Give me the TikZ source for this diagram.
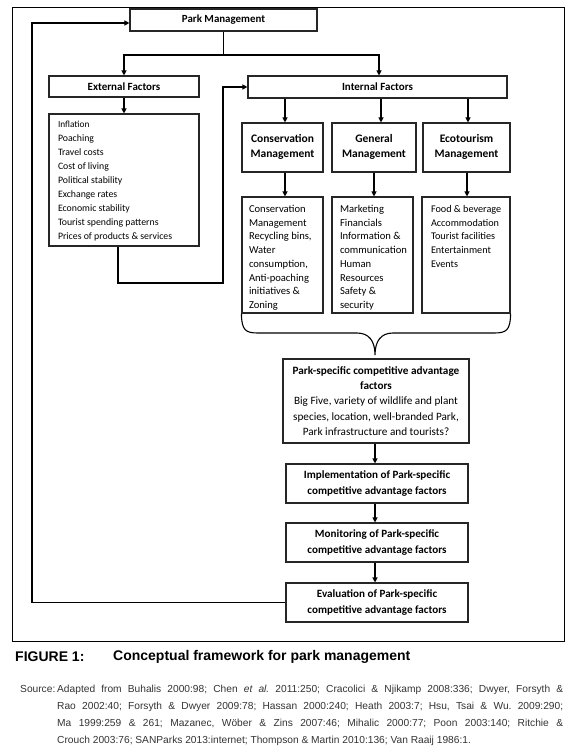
\documentclass[tikz,border=0pt]{standalone}
\usepackage{fontspec}
\setmainfont{Carlito}
\newfontfamily\arialfont{Liberation Sans}
\usetikzlibrary{arrows.meta}
\newcommand{\hdtext}[1]{\raisebox{3pt}{\begin{tabular}{@{}c@{}}#1\end{tabular}}}
\newcommand{\lsttext}[3]{\parbox[c][#1][t]{#2}{\vspace*{6pt}\begin{tabular}[t]{@{}l@{}}#3\end{tabular}}}
\begin{document}
\begin{tikzpicture}[x=1pt,y=-1pt,
  box/.style={draw=black!85, line width=1.1pt, inner sep=0pt, align=center,
    font=\bfseries\fontsize{11}{13}\selectfont},
  hbox/.style={box, font=\bfseries\fontsize{11.5}{15}\selectfont},
  sbox/.style={box, minimum width=182pt, minimum height=39pt, font=\bfseries\fontsize{11.1}{15.5}\selectfont},
  lbox/.style={draw=black!85, line width=1.1pt, inner ysep=0pt, align=left,
    font=\fontsize{10.6}{13.7}\selectfont},
  arr/.style={line width=1.1pt, -{Triangle[length=5pt,width=5pt]}},
  ln/.style={line width=1.1pt}]
\useasboundingbox (0,0) rectangle (576,751);
\draw[line width=0.9pt] (12,7) rectangle (564,641);

% nodes
\node[box, minimum width=187pt, minimum height=22pt,
  font=\bfseries\fontsize{10.9}{12}\selectfont] (pm) at (223.5,20) {Park Management};
\node[box, minimum width=150pt, minimum height=21pt] (ef) at (124,86.5) {External Factors};
\node[box, minimum width=259pt, minimum height=22pt] (if) at (377.5,87) {Internal Factors};

\node[lbox, inner xsep=9pt, font=\fontsize{9.8}{14}\selectfont] (extlist) at (124,180)
 {\parbox[c][132pt][t]{132pt}{\vspace*{7pt}{\fontsize{9.3}{14}\selectfont Inflation}\\Poaching\\Travel costs\\Cost of living\\Political stability\\Exchange rates\\Economic stability\\Tourist spending patterns\\Prices of products \& services}};

\node[hbox, minimum width=81pt, minimum height=49pt] (cons) at (282.5,147.5) {\hdtext{Conservation\\Management}};
\node[hbox, minimum width=84pt, minimum height=49pt] (gen) at (374,147.5) {\hdtext{General\\Management}};
\node[hbox, minimum width=87pt, minimum height=49pt] (eco) at (466.5,147.5) {\hdtext{Ecotourism\\Management}};

\node[lbox, inner xsep=7pt] (conslist) at (282.5,255)
 {\lsttext{116pt}{67pt}{Conservation\\Management\\Recycling bins,\\Water\\consumption,\\Anti-poaching\\initiatives \&\\Zoning}};
\node[lbox, inner xsep=8pt] (genlist) at (372.5,255)
 {\lsttext{116pt}{65pt}{Marketing\\Financials\\Information \&\\communication\\Human\\Resources\\Safety \&\\security}};
\node[lbox, inner xsep=9pt, font=\fontsize{10.2}{13.7}\selectfont] (ecolist) at (466,255)
 {\lsttext{116pt}{70pt}{Food \& beverage\\Accommodation\\Tourist facilities\\Entertainment\\Events}};

\node[box, minimum width=186pt, minimum height=84pt, font=\fontsize{11.2}{15.2}\selectfont] (ps) at (376,401)
 {\textbf{Park-specific competitive advantage}\\\textbf{factors}\\Big Five, variety of wildlife and plant\\species, location, well-branded Park,\\Park infrastructure and tourists?};

\node[sbox] (impl) at (377,483.5) {Implementation of Park-specific\\competitive advantage factors};
\node[sbox] (mon) at (377,542.5) {Monitoring of Park-specific\\competitive advantage factors};
\node[sbox] (eval) at (377,602.5) {Evaluation of Park-specific\\competitive advantage factors};

% connectors
\coordinate (j1) at (223.5,55);
\draw[ln] (pm.south) -- (j1);
\draw[arr] (j1) -| (ef.north);
\draw[arr] (j1) -| ([xshift=1.5pt]if.north);
\draw[arr] (ef.south) -- (extlist.north);

\coordinate (c1) at (118,283);
\coordinate (c2) at (223,283);
\draw[arr] (extlist.south -| c1) -- (c1) -- (c2) |- (if.west);

\draw[arr] (if.south -| 285,0) -- (cons.north -| 285,0);
\draw[arr] (if.south -| 381,0) -- (gen.north -| 381,0);
\draw[arr] (if.south -| 468,0) -- (eco.north -| 468,0);

\draw[arr] (cons.south -| 285,0) -- (conslist.north -| 285,0);
\draw[arr] (gen.south -| 374,0) -- (genlist.north -| 374,0);
\draw[arr] (eco.south -| 467,0) -- (ecolist.north -| 467,0);

\coordinate (tip) at (375,355);
\draw[ln] (conslist.south west) .. controls +(0,17) and +(-12,0) .. (258,333) -- (357,333)
  .. controls +(12,0) and +(0,-14) .. (tip)
  .. controls +(0,-14) and +(-12,0) .. (393,333) -- (494,333)
  .. controls +(12,0) and +(0,17) .. (ecolist.south east);

\draw[arr] (ps.south -| 375,0) -- (impl.north -| 375,0);
\draw[arr] (impl.south -| 375,0) -- (mon.north -| 375,0);
\draw[arr] (mon.south -| 375,0) -- (eval.north -| 375,0);

\coordinate (f2) at (32,23);
\draw[arr] (eval.west) -| (f2) -- (pm.west |- f2);

% caption
\node[anchor=west, inner sep=0pt, font=\arialfont\bfseries\fontsize{14}{16}\selectfont] (fig) at (15,657) {FIGURE 1:};
\node[anchor=west, inner sep=0pt, font=\arialfont\bfseries\fontsize{14}{16}\selectfont] (cap) at (113,657) {Conceptual framework for park management};

\node[anchor=north west, inner sep=0pt, text=black!80,
  font=\arialfont\fontsize{10.2}{17}\selectfont\frenchspacing] (src) at (20,680)
 {\begin{tabular}{@{}p{37pt}@{}p{506pt}@{}}
 Source: &
 Adapted from Buhalis 2000:98; Chen \textit{et al.} 2011:250; Cracolici \& Njikamp 2008:336; Dwyer, Forsyth \&\linebreak
 Rao 2002:40; Forsyth \& Dwyer 2009:78; Hassan 2000:240; Heath 2003:7; Hsu, Tsai \& Wu. 2009:290;\linebreak
 Ma 1999:259 \& 261; Mazanec, Wöber \& Zins 2007:46; Mihalic 2000:77; Poon 2003:140; Ritchie \&\linebreak
 Crouch 2003:76; SANParks 2013:internet; Thompson \& Martin 2010:136; Van Raaij 1986:1.
 \end{tabular}};
\end{tikzpicture}
\end{document}
